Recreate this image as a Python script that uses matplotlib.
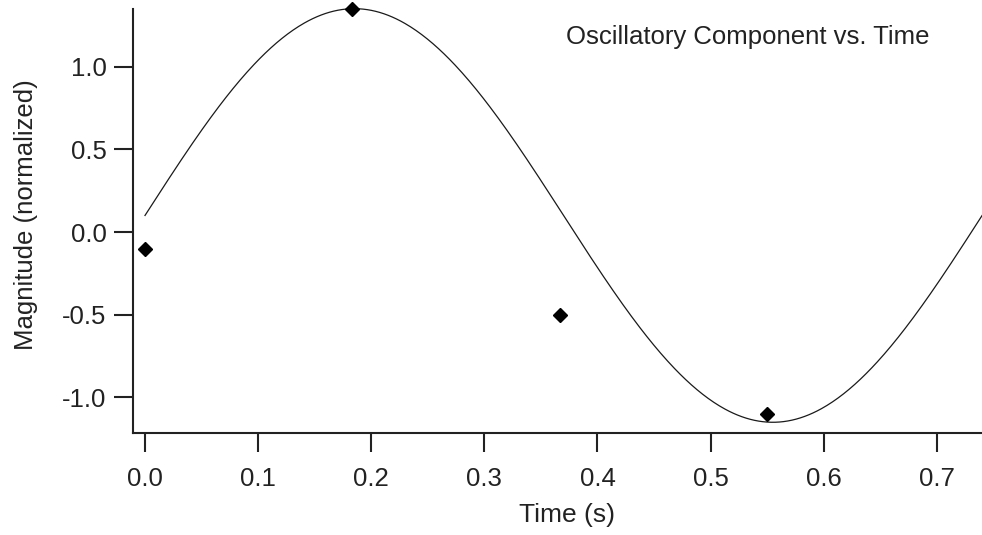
import numpy as np
import matplotlib
matplotlib.use("Agg")
import matplotlib.pyplot as plt

plt.rcParams['font.family'] = ['Liberation Sans', 'DejaVu Sans']

# Sampled data points
sample_times = [0.0, 0.1833, 0.3667, 0.55]
sample_values = [-0.1, 1.35, -0.5, -1.1]

# Fitted oscillatory component (parameters)
fit_offset = 0.1
fit_amplitude = 1.25
fit_period = 0.74
fit_t_start = 0.0
fit_t_end = 0.74

x_ticks = [0.0, 0.1, 0.2, 0.3, 0.4, 0.5, 0.6, 0.7]
y_ticks = [-1.0, -0.5, 0.0, 0.5, 1.0]

fig = plt.figure(figsize=(9.82, 5.35), dpi=100)
ax = fig.add_axes([133/982, 1 - 432.7/535, 1 - 133/982, (432.7 - 9)/535])

t = np.linspace(fit_t_start, fit_t_end, 600)
curve = fit_offset + fit_amplitude * np.sin(2 * np.pi * t / fit_period)
ax.plot(t, curve, color='#1a1a1a', lw=0.9, clip_on=False)
ax.plot(sample_times, sample_values, linestyle='none', marker='D',
        markersize=7, color='black', clip_on=False, zorder=3)

ax.set_xlim(-0.0106, 0.7399)
ax.set_ylim(-1.213, 1.348)
ax.set_xticks(x_ticks)
ax.set_xticklabels([f"{v:.1f}" for v in x_ticks])
ax.set_yticks(y_ticks)
ax.set_yticklabels([f"{v:.1f}" for v in y_ticks])

for s in ['top', 'right']:
    ax.spines[s].set_visible(False)
for s in ['left', 'bottom']:
    ax.spines[s].set_linewidth(1.5)
    ax.spines[s].set_color('#222222')

ax.tick_params(axis='both', direction='out', length=14, width=1.5,
               color='#222222', labelsize=18.5, labelcolor='#222222')
ax.tick_params(axis='x', pad=11)
ax.tick_params(axis='y', pad=5)

ax.set_xlabel('Time (s)', fontsize=19, color='#222222')
ax.set_ylabel('Magnitude (normalized)', fontsize=18.5, color='#222222')
ax.xaxis.set_label_coords((567 - 133) / 849, -(503 - 432.7) / 423.7)
ax.yaxis.set_label_coords((38 - 133) / 849, (432.7 - 215) / 423.7)

ax.text(0.724, 0.934, 'Oscillatory Component vs. Time', transform=ax.transAxes,
        ha='center', va='center', fontsize=18.5, color='#222222')

fig.savefig('out.png', dpi=100)
